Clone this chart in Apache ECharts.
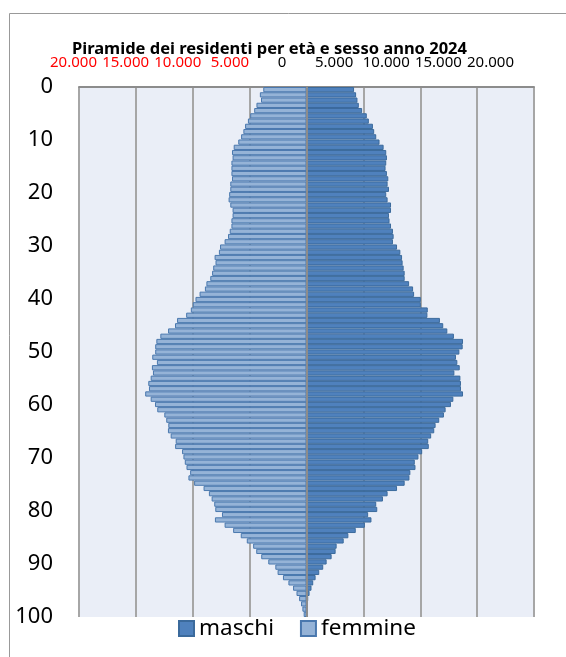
<!DOCTYPE html>
<html>
<head>
<meta charset="utf-8">
<script src="https://cdn.jsdelivr.net/npm/echarts@6/dist/echarts.min.js"></script>
<style>
  html, body { margin: 0; padding: 0; background: #fff; }
  #chart { width: 566px; height: 657px; }
</style>
</head>
<body>
<div id="chart"></div>
<script>
// età 0..100
const eta = Array.from({ length: 101 }, (_, i) => String(i));

// residenti maschi per età
const maschi = [
  4180, 4360, 4480, 4600, 4890, 5300, 5480, 5840, 5950, 6130,
  6420, 6780, 7010, 7070, 7010, 6950, 7070, 7190, 7130, 7250,
  7010, 7130, 7430, 7430, 7250, 7300, 7430, 7600, 7660, 7600,
  7960, 8250, 8400, 8450, 8540, 8630, 8630, 9020, 9370, 9460,
  10050, 10050, 10660, 10630, 11730, 12020, 12380, 12960, 13760, 13730,
  13440, 13140, 13260, 13470, 13000, 13530, 13580, 13580, 13760, 12910,
  12700, 12230, 12080, 11670, 11350, 11230, 10960, 10700, 10750, 10170,
  9840, 9520, 9580, 9130, 9050, 8630, 7960, 7130, 6720, 6130,
  6220, 5420, 5710, 5130, 4330, 3680, 3270, 2650, 2560, 2210,
  1770, 1470, 1120, 800, 590, 440, 270, 150, 100, 60,
  40
];

// residenti femmine per età
const femmine = [
  3800, 4100, 4000, 4400, 4600, 4950, 5150, 5400, 5550, 5750,
  6000, 6400, 6550, 6500, 6600, 6600, 6600, 6550, 6700, 6700,
  6800, 6850, 6700, 6500, 6500, 6600, 6600, 6750, 6900, 7200,
  7600, 7700, 8080, 8000, 8200, 8300, 8460, 8800, 8930, 9400,
  9760, 10000, 10170, 10580, 11380, 11560, 12170, 12850, 13200, 13300,
  13300, 13560, 13150, 13590, 13500, 13700, 13910, 13850, 14180, 13700,
  13320, 13120, 12500, 12330, 12150, 12180, 11940, 11500, 11550, 10940,
  10820, 10700, 10550, 10230, 10380, 9880, 9050, 8580, 8340, 8110,
  8020, 7430, 8050, 7200, 6450, 5780, 5250, 4690, 4420, 3980,
  3360, 2740, 2540, 2070, 1590, 1180, 880, 650, 480, 360,
  250
];

const chart = echarts.init(document.getElementById('chart'));

// formato italiano: 20.000
function fmt(v) {
  return String(Math.abs(v)).replace(/\B(?=(\d{3})+(?!\d))/g, '.');
}

const font = 'Noto Sans';

const option = {
  animation: false,
  textStyle: { fontFamily: font },
  title: {
    text: 'Piramide dei residenti per età e sesso anno 2024',
    left: 67,
    top: 36,
    textStyle: { fontFamily: font, fontSize: 16.5, fontWeight: 'bold', color: '#000' }
  },
  legend: {
    data: ['maschi', 'femmine'],
    left: 178,
    top: 617,
    padding: 0,
    itemWidth: 15,
    itemHeight: 15,
    itemGap: 26,
    icon: 'rect',
    textStyle: { fontFamily: font, fontSize: 22.5, color: '#000' }
  },
  graphic: [{
    type: 'rect',
    shape: { x: 9.5, y: 13.5, width: 700, height: 800 },
    style: { fill: 'none', stroke: '#999', lineWidth: 1 },
    silent: true,
    z: -10
  }],
  grid: [
    // area del grafico
    { left: 79, right: 32, top: 87, bottom: 40, show: true, backgroundColor: '#EAEEF7', borderWidth: 0 },
    // griglia solo per le etichette in alto (spostate come nell'originale)
    { left: 73.5, right: 75.5, top: 87, bottom: 40 }
  ],
  xAxis: [
    {
      gridIndex: 0,
      type: 'value',
      position: 'top',
      min: -20000,
      max: 20000,
      interval: 5000,
      axisLine: { show: true, onZero: false, lineStyle: { color: '#8C8C8C', width: 2 } },
      axisTick: { show: false },
      axisLabel: { show: false },
      splitLine: { show: true, lineStyle: { color: '#A6A6A6', width: 2 } }
    },
    {
      gridIndex: 1,
      type: 'value',
      position: 'top',
      min: -20000,
      max: 20000,
      interval: 5000,
      axisLine: { show: false },
      axisTick: { show: false },
      splitLine: { show: false },
      axisLabel: {
        margin: 17,
        fontSize: 15,
        fontFamily: font,
        formatter: (v) => fmt(v),
        color: (v) => (Number(v) < 0 ? '#FF0000' : '#000000')
      }
    }
  ],
  yAxis: [
    {
      gridIndex: 0,
      type: 'category',
      data: eta,
      inverse: true,
      show: false
    },
    {
      gridIndex: 0,
      type: 'value',
      min: 0,
      max: 100,
      interval: 10,
      inverse: true,
      position: 'left',
      axisLine: { show: false },
      axisTick: { show: false },
      splitLine: { show: false },
      axisLabel: { margin: 26, fontSize: 22, fontFamily: font, color: '#000', padding: [3, 0, 0, 0] }
    },
    {
      gridIndex: 1,
      type: 'value',
      show: false
    }
  ],
  series: [
    {
      name: 'maschi',
      type: 'bar',
      xAxisIndex: 0,
      yAxisIndex: 0,
      data: maschi,
      barGap: '-100%',
      barCategoryGap: '0%',
      itemStyle: { color: '#4F81BD', borderColor: '#3B6A9C', borderWidth: 1 },
      markLine: {
        silent: true,
        symbol: 'none',
        label: { show: false },
        lineStyle: { color: '#8C8C8C', width: 2, type: 'solid' },
        data: [{ xAxis: 0 }]
      }
    },
    {
      name: 'femmine',
      type: 'bar',
      xAxisIndex: 0,
      yAxisIndex: 0,
      data: femmine.map((v) => -v),
      barCategoryGap: '0%',
      itemStyle: { color: '#95B3D7', borderColor: '#4A78AE', borderWidth: 1 }
    }
  ]
};

chart.setOption(option);
</script>
</body>
</html>
